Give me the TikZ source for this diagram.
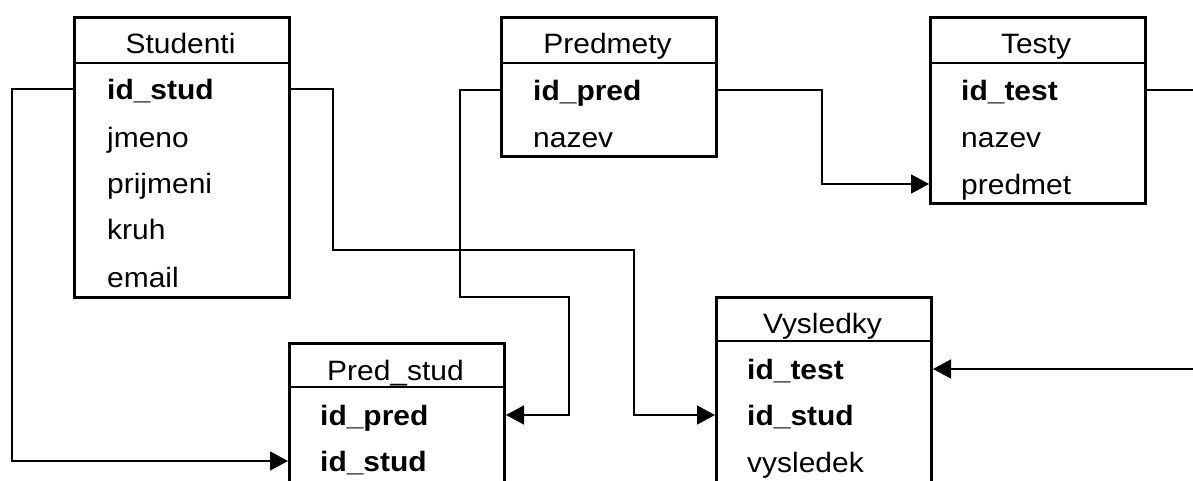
\documentclass[tikz,border=0pt]{standalone}
\usepackage{fontspec}
\setmainfont{Liberation Sans}[FakeStretch=1.07]
\usetikzlibrary{arrows.meta}
\begin{document}
\begin{tikzpicture}[x=1pt,y=-1pt,
 tbox/.style={draw, line width=3pt, rectangle, anchor=north west, inner sep=0pt, minimum width=215pt},
 hdr/.style={font=\fontsize{28}{30}\selectfont, text height=22pt, text depth=2pt, inner sep=0pt},
 fld/.style={hdr, anchor=west},
 key/.style={fld, font=\fontsize{28}{30}\selectfont\bfseries},
 div/.style={line width=1.5pt},
 conn/.style={line width=1.6pt},
 fk/.style={conn, -{Triangle[length=18pt,width=19pt]}}
]
\useasboundingbox (0,0) rectangle (1193,480);
\clip (0,0) rectangle (1193,480);

% Studenti
\node[tbox, minimum height=280pt] (stud) at (73,16) {};
\draw[div] ([yshift=-47pt]stud.north west) -- ([yshift=-47pt]stud.north east);
\node[hdr] (studh) at (180.5,43) {Studenti};
\node[key] (s1) at (107,89) {id\_stud};
\node[fld] (s2) at (107,137) {jmeno};
\node[fld] (s3) at (107,183) {prijmeni};
\node[fld] (s4) at (107,229) {kruh};
\node[fld] (s5) at (107,277) {email};

% Predmety
\node[tbox, minimum height=139pt] (pred) at (500,16) {};
\draw[div] ([yshift=-47pt]pred.north west) -- ([yshift=-47pt]pred.north east);
\node[hdr] (predh) at (607.5,43) {Predmety};
\node[key] (p1) at (533,90) {id\_pred};
\node[fld] (p2) at (533,137) {nazev};

% Testy
\node[tbox, minimum height=186pt] (test) at (929,16) {};
\draw[div] ([yshift=-47pt]test.north west) -- ([yshift=-47pt]test.north east);
\node[hdr] (testh) at (1036,43) {Testy};
\node[key] (t1) at (961,90) {id\_test};
\node[fld] (t2) at (961,137) {nazev};
\node[fld] (t3) at (961,184) {predmet};

% Pred_stud
\node[tbox, minimum height=200pt] (ps) at (288,342) {};
\draw[div] ([yshift=-45pt]ps.north west) -- ([yshift=-45pt]ps.north east);
\node[hdr] (psh) at (395.5,370) {Pred\_stud};
\node[key] (ps1) at (320,415) {id\_pred};
\node[key] (ps2) at (320,461) {id\_stud};

% Vysledky
\node[tbox, minimum height=250pt] (vys) at (715,296) {};
\draw[div] ([yshift=-45pt]vys.north west) -- ([yshift=-45pt]vys.north east);
\node[hdr] (vysh) at (822.5,323) {Vysledky};
\node[key] (v1) at (747,369) {id\_test};
\node[key] (v2) at (747,415) {id\_stud};
\node[fld] (v3) at (747,462) {vysledek};

% connector bend points
\coordinate (a1) at (12,0);
\coordinate (b1) at (333,250);
\coordinate (b2) at (634,250);
\coordinate (c1) at (460,297);
\coordinate (c2) at (569,297);
\coordinate (d1) at (822,0);
\coordinate (e1) at (1193,0);

% Studenti.id_stud -> Pred_stud.id_stud
\draw[fk] (stud.west |- s1) -- (a1 |- s1) -- (a1 |- ps2) -- (ps.west |- ps2);
% Studenti.id_stud -> Vysledky.id_stud
\draw[fk] (stud.east |- s1) -- (b1 |- s1) -- (b1) -- (b2) -- (b2 |- v2) -- (vys.west |- v2);
% Predmety.id_pred -> Pred_stud.id_pred
\draw[fk] (pred.west |- p1) -- (c1 |- p1) -- (c1) -- (c2) -- (c2 |- ps1) -- (ps.east |- ps1);
% Predmety.id_pred -> Testy.predmet
\draw[fk] (pred.east |- p1) -- (d1 |- p1) -- (d1 |- t3) -- (test.west |- t3);
% Testy.id_test -> Vysledky.id_test
\draw[conn] (test.east |- t1) -- (e1 |- t1);
\draw[fk] (e1 |- v1) -- (vys.east |- v1);
\end{tikzpicture}
\end{document}
